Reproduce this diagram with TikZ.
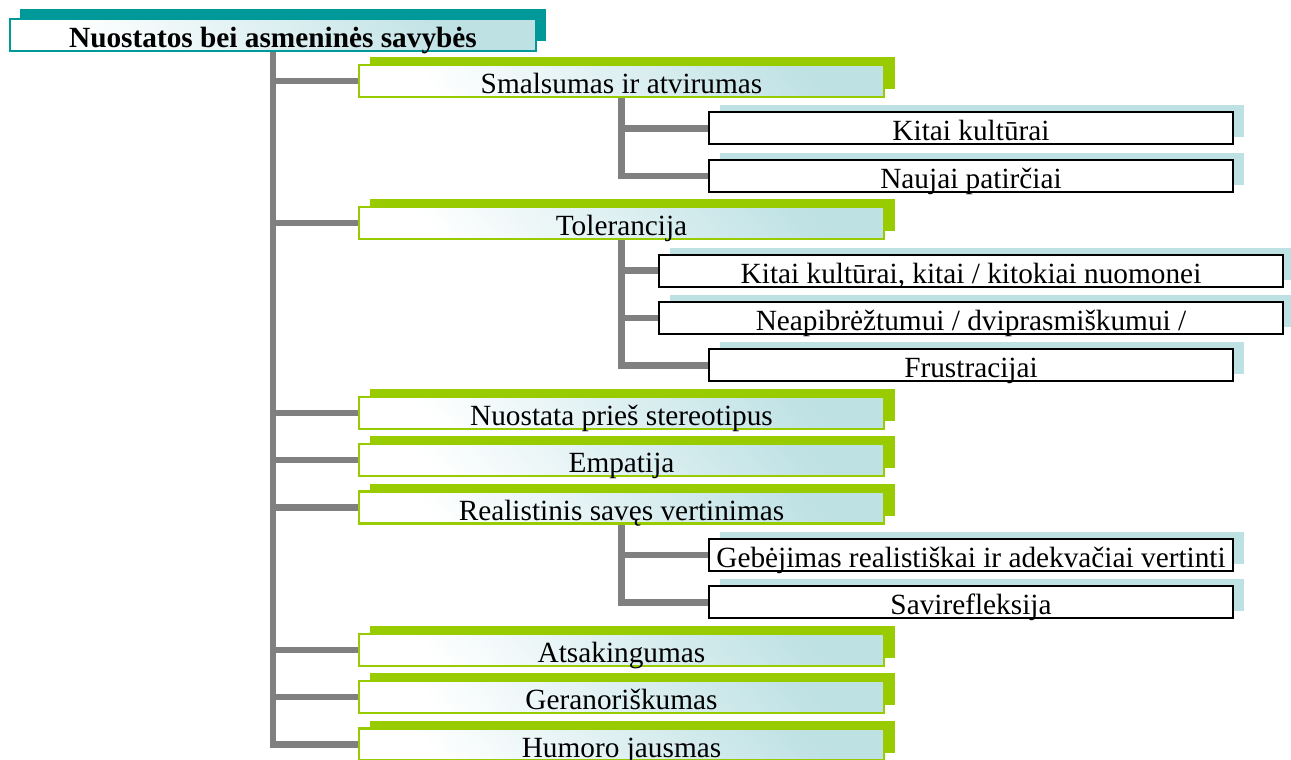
\documentclass[tikz,border=0pt]{standalone}
\usepackage{fontspec}
\setmainfont{Liberation Serif}
\usetikzlibrary{shadows,backgrounds}
\definecolor{rootteal}{RGB}{0,153,153}
\definecolor{catgreen}{RGB}{153,204,0}
\definecolor{paleblue}{RGB}{190,225,228}
\definecolor{conngray}{RGB}{128,128,128}
\begin{document}
\begin{tikzpicture}[x=1pt,y=-1pt]
    \tikzstyle{boxbase} = [rectangle,inner sep=0pt,text height=28.5pt,text depth=3.5pt,
                           font=\fontsize{29.3}{32}\selectfont]
    \tikzstyle{rootbox} = [boxbase,minimum width=526pt,draw=rootteal,line width=2pt,
                           shading=axis,top color=paleblue,bottom color=white,shading angle=-50,
                           font=\fontsize{29.3}{32}\selectfont\bfseries,
                           drop shadow={shadow xshift=10pt,shadow yshift=10pt,fill=rootteal,opacity=1}]
    \tikzstyle{catbox} = [boxbase,minimum width=525pt,draw=catgreen,line width=2.3pt,
                          shading=axis,top color=paleblue,bottom color=white,shading angle=-50,
                          drop shadow={shadow xshift=11pt,shadow yshift=8pt,fill=catgreen,opacity=1}]
    \tikzstyle{subbox} = [boxbase,minimum width=524pt,draw=black,line width=2pt,fill=white,
                          drop shadow={shadow xshift=11pt,shadow yshift=7pt,fill=paleblue,opacity=1}]
    \tikzstyle{widebox} = [subbox,minimum width=624pt]
    \tikzstyle{conn} = [draw=conngray,line width=6.5pt]
    \useasboundingbox (0,0) rectangle (1291,760);
    % root
    \node[rootbox] (root) at (273,35) {Nuostatos bei asmeninės savybės};
    % first level
    \node[catbox] (smal) at (621.5,81) {Smalsumas ir atvirumas};
    \node[catbox] (tol) at (621.5,223.2) {Tolerancija};
    \node[catbox] (ster) at (621.5,412.8) {Nuostata prieš stereotipus};
    \node[catbox] (emp) at (621.5,460.2) {Empatija};
    \node[catbox] (real) at (621.5,507.6) {Realistinis savęs vertinimas};
    \node[catbox] (ats) at (621.5,649.8) {Atsakingumas};
    \node[catbox] (ger) at (621.5,697.2) {Geranoriškumas};
    \node[catbox] (hum) at (621.5,744.6) {Humoro jausmas};
    % second level
    \node[subbox] (smalA) at (971,128.4) {Kitai kultūrai};
    \node[subbox] (smalB) at (971,175.8) {Naujai patirčiai};
    \node[widebox] (tolA) at (971,270.6) {Kitai kultūrai, kitai / kitokiai nuomonei};
    \node[widebox] (tolB) at (971,318) {Neapibrėžtumui / dviprasmiškumui /};
    \node[subbox] (tolC) at (971,365.4) {Frustracijai};
    \node[subbox] (realA) at (971,555) {Gebėjimas realistiškai ir adekvačiai vertinti};
    \node[subbox] (realB) at (971,602.4) {Savirefleksija};
    % connectors
    \begin{scope}[on background layer]
    \foreach \n in {smal,tol,ster,emp,real,ats,ger,hum}
        \draw[conn] (root.south) |- (\n.west);
    \foreach \n in {smalA,smalB}
        \draw[conn] (smal.south) |- (\n.west);
    \foreach \n in {tolA,tolB,tolC}
        \draw[conn] (tol.south) |- (\n.west);
    \foreach \n in {realA,realB}
        \draw[conn] (real.south) |- (\n.west);
    \end{scope}
\end{tikzpicture}
\end{document}
